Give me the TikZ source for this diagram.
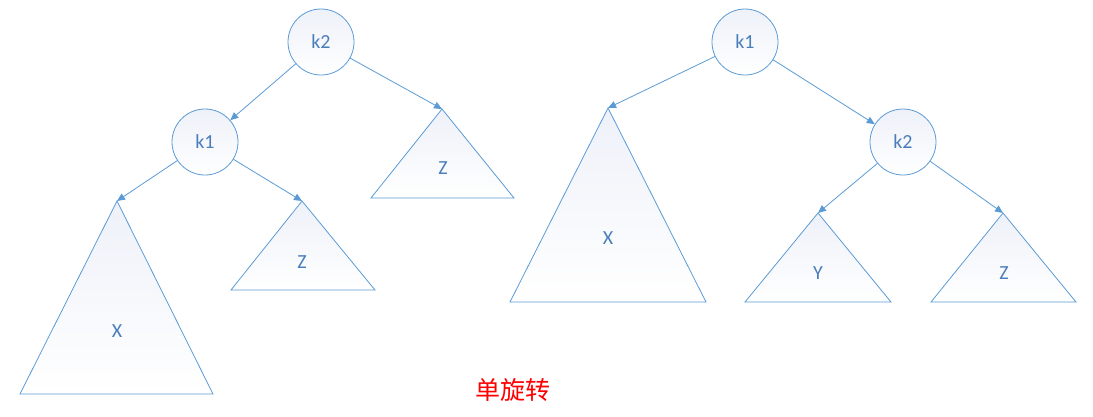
\documentclass[tikz,border=0pt]{standalone}
\usepackage{fontspec}
\newfontfamily\labfont{Carlito}
\newfontfamily\cjk{Noto Sans CJK SC}
\usetikzlibrary{arrows.meta}
\definecolor{edgeblue}{HTML}{5B9BD5}
\definecolor{textblue}{HTML}{4A7EBB}
\definecolor{shadeblue}{HTML}{EEF1F9}
\tikzset{
  keynode/.style={circle, draw=edgeblue, line width=0.8pt, minimum size=66pt, inner sep=0pt,
    top color=shadeblue, bottom color=white, text=textblue, font=\labfont\fontsize{20}{20}\selectfont},
  subtree/.style={draw=edgeblue, line width=0.8pt, top color=shadeblue, bottom color=white},
  sublabel/.style={text=textblue, font=\labfont\fontsize{20}{20}\selectfont, inner sep=0pt},
  link/.style={draw=edgeblue, line width=0.8pt, -{Triangle[length=8pt,width=7pt]}},
}
\begin{document}
\begin{tikzpicture}[x=1pt,y=-1pt]
\useasboundingbox (0,0) rectangle (1093,416);
% ---------- left tree ----------
\node[keynode] (Lk2) at (321,42) {k2};
\node[keynode] (Lk1) at (205,142) {k1};
\coordinate (LZa) at (442,109);
\coordinate (LXa) at (117,201);
\coordinate (LZ2a) at (302,201);
\path[subtree] (LZa) -- (514,198) -- (371,198) -- cycle;
\path[subtree] (LXa) -- (213,394) -- (20,394) -- cycle;
\path[subtree] (LZ2a) -- (375,290) -- (231,290) -- cycle;
\node[sublabel] (LZ) at (443,168) {Z};
\node[sublabel] (LX) at (117,331) {X};
\node[sublabel] (LZ2) at (302,262) {Z};
\draw[link] (Lk2) -- (Lk1);
\draw[link] (Lk2) -- (LZa);
\draw[link] (Lk1) -- (LXa);
\draw[link] (Lk1) -- (LZ2a);
% ---------- right tree ----------
\node[keynode] (Rk1) at (745,42) {k1};
\node[keynode] (Rk2) at (903,142) {k2};
\coordinate (RXa) at (608,108);
\coordinate (RYa) at (818,213);
\coordinate (RZa) at (1003,213);
\path[subtree] (RXa) -- (706,302) -- (510,302) -- cycle;
\path[subtree] (RYa) -- (891,302) -- (745,302) -- cycle;
\path[subtree] (RZa) -- (1076,302) -- (931,302) -- cycle;
\node[sublabel] (RX) at (608,238) {X};
\node[sublabel] (RY) at (818,273) {Y};
\node[sublabel] (RZ) at (1004,273) {Z};
\draw[link] (Rk1) -- (RXa);
\draw[link] (Rk1) -- (Rk2);
\draw[link] (Rk2) -- (RYa);
\draw[link] (Rk2) -- (RZa);
% ---------- caption ----------
\node[text=red, font=\cjk\fontsize{25}{25}\selectfont] (cap) at (513,390) {单旋转};
\end{tikzpicture}
\end{document}
